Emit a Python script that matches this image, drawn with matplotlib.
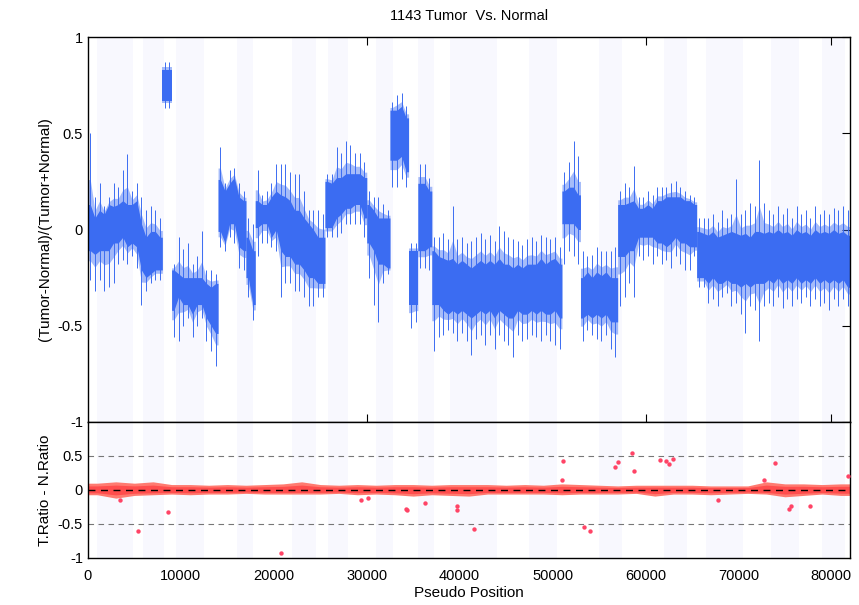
import numpy as np
import matplotlib.pyplot as plt

plt.rcParams['font.family'] = ['Liberation Sans', 'DejaVu Sans']

# upper panel: per-bin (500 positions) extents, in units of 0.01
bin_width = 500
core_lo = [-11, -13, -11, -11, -11, -7, -7, -4, -9, -7,
           -9, -21, -25, -23, -21, -21, 67, 67, -42, -35,
           -39, -39, -44, -39, -39, -46, -50, -54, -1, -7,
           3, 3, -9, -11, -25, -39, 1, 3, 3, -4,
           0, -11, -14, -14, -18, -18, -21, -25, -25, -28,
           -28, 1, 1, 6, 8, 11, 11, 13, 13, 6,
           -7, -11, -18, -18, -20, 36, 36, 38, 30, -39,
           -39, -11, -11, -9, -39, -39, -42, -44, -42, -44,
           -42, -44, -46, -44, -42, -44, -42, -46, -42, -44,
           -46, -46, -42, -44, -44, -42, -44, -42, -44, -44,
           -42, -46, 3, 3, 3, 0, -46, -44, -46, -44,
           -46, -44, -48, -48, -14, -14, -11, -11, -4, -4,
           -4, -4, -7, -7, -9, -7, -4, -7, -7, -9,
           -9, -25, -25, -28, -25, -28, -28, -26, -28, -28,
           -30, -28, -30, -28, -28, -28, -26, -28, -25, -28,
           -26, -28, -25, -28, -26, -28, -25, -28, -26, -28,
           -26, -28, -26, -30]
core_hi = [13, 6, 10, 8, 13, 12, 13, 15, 13, 13,
           15, 3, -4, -1, -1, -4, 83, 83, -21, -23,
           -25, -25, -25, -25, -25, -28, -30, -28, 26, 20,
           24, 27, 17, 15, -4, -11, 15, 13, 13, 17,
           20, 18, 17, 15, 10, 10, 6, 3, 0, -4,
           -4, 25, 24, 27, 27, 29, 29, 29, 29, 27,
           13, 10, 6, 6, 6, 62, 62, 64, 58, -11,
           -11, 24, 24, 20, -11, -14, -15, -16, -15, -18,
           -16, -18, -20, -18, -16, -18, -16, -18, -15, -18,
           -18, -20, -18, -20, -18, -18, -18, -15, -18, -16,
           -15, -18, 20, 22, 22, 18, -25, -22, -25, -22,
           -24, -22, -25, -25, 13, 13, 14, 15, 11, 11,
           13, 11, 15, 15, 17, 17, 17, 17, 15, 15,
           13, -1, -2, -3, -1, -4, -3, -2, -1, -2,
           -3, -2, -4, -1, -1, -2, -1, -2, 0, -2,
           -1, -3, 0, -2, -1, -3, 0, -2, -1, -2,
           0, -2, -1, -3]
tail_lo = [-26, -32, -26, -32, -30, -28, -18, -16, -18, -14,
           -20, -39, -32, -28, -26, -26, 63, 63, -56, -58,
           -50, -46, -56, -50, -46, -58, -63, -71, -9, -11,
           -4, -7, -20, -21, -35, -47, -14, -7, -7, -9,
           -11, -35, -28, -28, -32, -32, -35, -40, -40, -35,
           -35, -4, -4, -4, -2, 3, 3, 3, 3, -4,
           -25, -39, -48, -28, -23, 22, 22, 26, 22, -51,
           -48, -20, -20, -21, -63, -56, -55, -52, -54, -58,
           -54, -58, -65, -57, -55, -60, -55, -62, -55, -58,
           -60, -66, -55, -58, -57, -55, -56, -58, -55, -58,
           -60, -62, -18, -11, -14, -18, -58, -52, -55, -57,
           -58, -55, -62, -66, -40, -35, -28, -35, -14, -16,
           -14, -18, -14, -18, -16, -20, -14, -18, -21, -21,
           -14, -30, -30, -38, -36, -40, -35, -33, -40, -38,
           -44, -54, -40, -42, -58, -40, -38, -40, -35, -41,
           -36, -40, -36, -38, -35, -40, -36, -40, -38, -42,
           -36, -40, -36, -40]
tail_hi = [50, 17, 24, 12, 17, 24, 22, 31, 39, 20,
           24, 17, 10, 12, 10, 6, 87, 87, -18, -4,
           -10, -7, -18, -14, -1, -21, -21, -23, 43, 24,
           31, 32, 24, 20, 6, 3, 31, 18, 20, 24,
           34, 34, 34, 30, 29, 29, 20, 10, 10, 10,
           8, 29, 29, 43, 40, 46, 44, 40, 40, 35,
           20, 17, 17, 13, 10, 66, 70, 71, 64, -7,
           -7, 34, 34, 27, -4, -4, -2, -5, 12, -5,
           -4, -7, -6, -4, -2, -5, -3, -6, 2, -1,
           -4, -5, -6, -8, -5, -4, -6, -3, -4, -5,
           -4, -9, 30, 35, 46, 38, -11, -14, -13, -9,
           -11, -11, -11, -9, 20, 24, 22, 33, 17, 17,
           20, 18, 22, 22, 22, 24, 25, 22, 20, 18,
           17, 6, 6, 6, 8, 4, 10, 6, 8, 26,
           8, 10, 14, 12, 36, 14, 10, 8, 12, 8,
           11, 6, 12, 8, 10, 6, 12, 8, 10, 8,
           11, 10, 12, 10]
# bin indices where the level jumps (new segment starts)
segment_starts = [0, 16, 18, 28, 34, 36, 51, 60, 65, 69, 71, 74, 102, 106, 114, 131]

# lower panel: band extents per 2000 positions, and scattered points
band_width = 2000
band_hi = [0.10, 0.12, 0.10, 0.12, 0.08, 0.08, 0.07, 0.08, 0.07, 0.08,
           0.09, 0.12, 0.08, 0.07, 0.08, 0.07, 0.08, 0.08, 0.07, 0.08,
           0.08, 0.08, 0.07, 0.08, 0.07, 0.09, 0.08, 0.07, 0.06, 0.07,
           0.07, 0.07, 0.07, 0.06, 0.06, 0.06, 0.12, 0.09, 0.09, 0.08,
           0.09]
band_lo = [-0.07, -0.12, -0.08, -0.07, -0.06, -0.07, -0.06, -0.06, -0.05, -0.06,
           -0.06, -0.06, -0.06, -0.05, -0.07, -0.06, -0.07, -0.09, -0.07, -0.08,
           -0.09, -0.06, -0.06, -0.06, -0.06, -0.07, -0.06, -0.06, -0.06, -0.05,
           -0.09, -0.06, -0.06, -0.07, -0.06, -0.05, -0.06, -0.10, -0.08, -0.06,
           -0.08]
out_x = [3500, 5350, 8580, 20800, 29400, 30100, 34200, 34300, 36300, 39700, 39750,
         41500, 51000, 51100, 53400, 54000, 56700, 57000, 58500, 58800, 61600,
         62200, 62500, 63000, 67800, 72700, 73900, 75400, 75700, 77700, 81800]
out_y = [-0.14, -0.60, -0.33, -0.92, -0.15, -0.12, -0.28, -0.30, -0.19, -0.24, -0.30,
         -0.57, 0.15, 0.43, -0.54, -0.60, 0.34, 0.41, 0.55, 0.28, 0.44,
         0.42, 0.38, 0.46, -0.14, 0.15, 0.40, -0.28, -0.24, -0.24, 0.21]

# faint background shading
shade_spans = [(1000, 4800), (5900, 8200), (9500, 12500), (16000, 17800), (22000, 24500),
               (25800, 28000), (31000, 32800), (35500, 37200), (39000, 44000), (47500, 50500),
               (55000, 57500), (62000, 64500), (66500, 70500), (73500, 76500), (79000, 81500)]

blue = '#3b6cf2'
red = '#ff5a5a'

fig = plt.figure(figsize=(8.59, 6.05), dpi=100)
ax1 = fig.add_axes([0.1024, 0.3025, 0.8871, 0.6363])
ax2 = fig.add_axes([0.1024, 0.0777, 0.8871, 0.2248])

n = len(core_lo)
xc = np.arange(n) * bin_width + bin_width / 2
clo = np.array(core_lo) / 100
chi = np.array(core_hi) / 100
tlo = np.array(tail_lo) / 100
thi = np.array(tail_hi) / 100

for a, b in shade_spans:
    ax1.axvspan(a, b, color='#f8f8fe', lw=0, zorder=0)
    ax2.axvspan(a, b, color='#f8f8fe', lw=0, zorder=0)

ax1.vlines(xc, tlo, thi, color=blue, lw=0.7, zorder=2)
bounds = segment_starts + [n]
for s, e in zip(bounds[:-1], bounds[1:]):
    xs = np.concatenate([[s * bin_width], xc[s:e], [e * bin_width]])
    lo = np.concatenate([[clo[s]], clo[s:e], [clo[e - 1]]])
    hi = np.concatenate([[chi[s]], chi[s:e], [chi[e - 1]]])
    ax1.fill_between(xs, lo, hi, color=blue, lw=0, zorder=2)
    # ragged halo between core and tails
    ax1.fill_between(xs, lo - (lo - np.concatenate([[tlo[s]], tlo[s:e], [tlo[e - 1]]])) * 0.35,
                     hi + (np.concatenate([[thi[s]], thi[s:e], [thi[e - 1]]]) - hi) * 0.35,
                     color=blue, alpha=0.45, lw=0, zorder=2)

ax1.set_xlim(0, 82000)
ax1.set_ylim(-1, 1)
ax1.set_yticks([-1, -0.5, 0, 0.5, 1])
ax1.set_yticklabels(['-1', '-0.5', '0', '0.5', '1'])
ax1.set_xticks([30000, 60000, 80000])
ax1.tick_params(axis='x', direction='in', top=True, bottom=True, labelbottom=False, length=6)
ax1.tick_params(axis='y', direction='in', left=False, right=True, length=6, labelsize=10.5)
ax1.set_ylabel('(Tumor-Normal)/(Tumor+Normal)', fontsize=11)
ax1.set_title('1143 Tumor  Vs. Normal', fontsize=10.5, pad=12)

# lower panel
bx = np.arange(len(band_hi)) * band_width + band_width / 2
bx = np.concatenate([[0], bx, [82000]])
bhi = np.concatenate([[band_hi[0]], band_hi, [band_hi[-1]]])
blo = np.concatenate([[band_lo[0]], band_lo, [band_lo[-1]]])
ax2.fill_between(bx, blo, bhi, color='#ff7a70', lw=0, zorder=2)
ax2.fill_between(bx, blo * 0.6, bhi * 0.6, color='#ff4d4d', lw=0, zorder=2)
ax2.scatter(out_x, out_y, s=10, color='#ff4466', lw=0, zorder=3)
ax2.axhline(0.5, color='#777777', lw=0.8, ls=(0, (5, 4)), zorder=1)
ax2.axhline(-0.5, color='#777777', lw=0.8, ls=(0, (5, 4)), zorder=1)
ax2.axhline(0, color='black', lw=1.0, ls=(0, (5, 4)), zorder=4)

ax2.set_xlim(0, 82000)
ax2.set_ylim(-1, 1)
ax2.set_yticks([-1, -0.5, 0, 0.5])
ax2.set_yticklabels(['-1', '-0.5', '0', '0.5'])
ax2.set_xticks(np.arange(0, 80001, 10000))
ax2.set_xticks([30000, 60000, 80000], minor=True)
ax2.tick_params(axis='x', which='major', length=0, labelsize=10.5, pad=8)
ax2.tick_params(axis='x', which='minor', direction='in', top=True, bottom=True, length=6)
ax2.tick_params(axis='y', length=0, labelsize=10.5)
ax2.set_xlabel('Pseudo Position', fontsize=11, labelpad=2)
ax2.set_ylabel('T.Ratio - N.Ratio', fontsize=11)

for ax in (ax1, ax2):
    for s in ax.spines.values():
        s.set_linewidth(1.0)

fig.align_ylabels([ax1, ax2])
fig.savefig('out.png', dpi=100)
